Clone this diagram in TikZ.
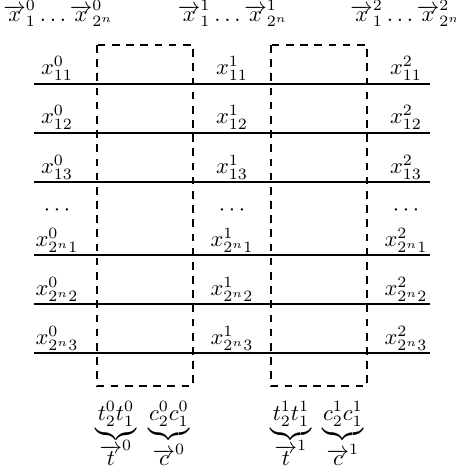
\documentclass[tikz,border=0pt]{standalone}
\begin{document}
\begin{tikzpicture}[x=0.444pt,y=-0.444pt,
  wire/.style={line width=0.95pt},
  dbox/.style={draw,line width=0.55pt,dash pattern=on 3.4pt off 2.9pt},
  lab/.style={inner sep=0pt,anchor=south},
  toplab/.style={inner sep=0pt,anchor=base},
  brlab/.style={inner sep=0pt,anchor=north},
  veclab/.style={inner sep=0pt,anchor=base}]
\useasboundingbox (0,0) rectangle (456,473);
% top labels
\node[toplab] (h0) at (58.5,21) {$\overrightarrow{x}^0_1\ldots\overrightarrow{x}^0_{2^n}$};
\node[toplab] (h1) at (233,21) {$\overrightarrow{x}^1_1\ldots\overrightarrow{x}^1_{2^n}$};
\node[toplab] (h2) at (405.5,21) {$\overrightarrow{x}^2_1\ldots\overrightarrow{x}^2_{2^n}$};
% dashed boxes
\draw[dbox] (97,45) rectangle (193,386);
\draw[dbox] (271,45) rectangle (367,386);
% wires
\foreach \y/\n in {84/a,133/b,182/c,255/d,304/e,353/f}{
  \coordinate (L\n) at (34,\y);
  \coordinate (R\n) at (430,\y);
  \draw[wire] (L\n) -- (R\n);
}
% row labels
\foreach \c/\k in {57/0,232/1,406/2}{
  \node[lab] (r\k a) at (\c,81) {$x^{\k}_{11}$};
  \node[lab] (r\k b) at (\c,130) {$x^{\k}_{12}$};
  \node[lab] (r\k c) at (\c,180) {$x^{\k}_{13}$};
  \node[lab] (r\k d) at (\c,216) {$\cdots$};
  \node[lab] (r\k e) at (\c,253) {$x^{\k}_{2^n1}$};
  \node[lab] (r\k f) at (\c,302) {$x^{\k}_{2^n2}$};
  \node[lab] (r\k g) at (\c,351) {$x^{\k}_{2^n3}$};
}
% bottom labels
\node[brlab] (t0) at (116,401) {$\underbrace{t^0_2t^0_1}$};
\node[brlab] (c0) at (169,401) {$\underbrace{c^0_2c^0_1}$};
\node[brlab] (t1) at (291,401) {$\underbrace{t^1_2t^1_1}$};
\node[brlab] (c1) at (343,401) {$\underbrace{c^1_2c^1_1}$};
\node[veclab] (vt0) at (116,465) {$\overrightarrow{t}^0$};
\node[veclab] (vc0) at (169,465) {$\overrightarrow{c}^0$};
\node[veclab] (vt1) at (291,465) {$\overrightarrow{t}^1$};
\node[veclab] (vc1) at (343,465) {$\overrightarrow{c}^1$};
\end{tikzpicture}
\end{document}
